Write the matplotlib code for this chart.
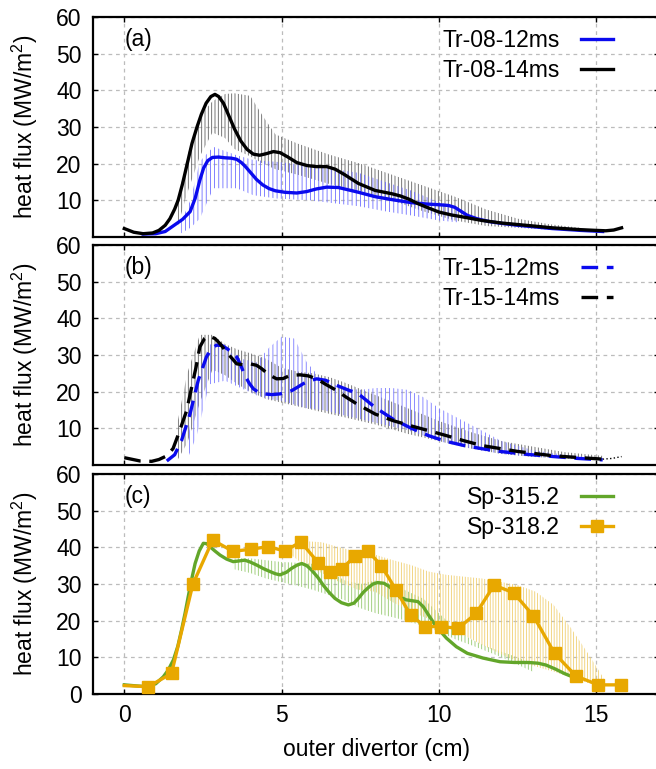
import matplotlib
matplotlib.use('Agg')
import matplotlib.pyplot as plt
from matplotlib.lines import Line2D

plt.rcParams['font.family'] = ['Liberation Sans', 'DejaVu Sans']
plt.rcParams['mathtext.fontset'] = 'custom'
plt.rcParams['mathtext.rm'] = 'Liberation Sans'
plt.rcParams['hatch.linewidth'] = 0.6

FS = 16.5

# ---- panel (a) ----
a_x_12 = [0.6, 1.0, 1.3, 1.6, 1.85, 2.09, 2.25, 2.4, 2.52, 2.65, 2.8, 3.0, 3.2, 3.4, 3.57, 3.72,
          3.85, 4.0, 4.2, 4.4, 4.6, 4.8, 5.1, 5.48, 5.8, 6.1, 6.43, 6.8, 7.1, 7.44, 7.97, 8.5,
          9.1, 9.6, 10.0, 10.3, 10.5, 10.7, 10.9, 11.2, 11.6, 12.0, 12.5, 13.6, 14.5, 15.2]
a_y_12 = [0.8, 0.9, 1.5, 3.3, 4.8, 6.9, 10.5, 15.5, 18.8, 20.8, 21.7, 21.8, 21.6, 21.5, 21.2, 20.3,
          19.2, 17.7, 15.7, 14.2, 13.2, 12.6, 12.2, 12.0, 12.4, 13.1, 13.6, 13.5, 12.9, 12.2, 11.0, 10.2,
          9.4, 9.0, 8.8, 8.6, 8.1, 7.0, 5.9, 5.0, 4.2, 3.7, 3.2, 2.3, 1.8, 1.5]
a_x_14 = [0.0, 0.3, 0.6, 0.9, 1.1, 1.3, 1.45, 1.6, 1.71, 1.85, 2.0, 2.15, 2.31, 2.45, 2.6, 2.75,
          2.88, 3.0, 3.15, 3.3, 3.5, 3.7, 3.9, 4.1, 4.3, 4.5, 4.74, 4.95, 5.2, 5.48, 5.8, 6.1,
          6.43, 6.7, 7.0, 7.44, 7.97, 8.5, 8.77, 9.05, 9.33, 9.7, 10.0, 10.4, 10.8, 11.37, 12.0,
          12.5, 13.0, 13.6, 14.5, 15.0, 15.3, 15.55, 15.8]
a_y_14 = [2.3, 1.3, 0.9, 1.1, 1.8, 3.2, 5.0, 7.6, 10.0, 14.5, 20.0, 25.5, 30.0, 33.5, 36.5, 38.3,
          38.9, 38.3, 36.5, 33.5, 29.5, 26.2, 23.9, 22.6, 22.3, 22.7, 23.3, 23.0, 21.8, 20.3, 19.5, 19.2,
          19.2, 18.5, 17.0, 14.6, 12.7, 11.8, 11.2, 10.3, 9.1, 7.8, 6.8, 6.0, 5.4, 4.5, 3.8,
          3.4, 3.0, 2.5, 2.0, 1.8, 1.7, 1.9, 2.5]
# error bands
a_bx_14 = [1.7, 2.0, 2.4, 2.8, 3.2, 3.5, 4.0, 4.4, 4.8, 5.5, 6.5, 7.5, 8.5, 9.5, 10.5, 11.5, 12.5, 13.5, 14.5]
a_hi_14 = [10, 22, 33, 37, 39, 39.2, 38.5, 33, 28, 25.5, 22.5, 20, 17, 14, 11, 7.5, 5, 3.5, 2.5]
a_lo_14 = [3, 12, 22, 28.5, 27, 24, 22, 20, 18.5, 17, 14.5, 12.5, 10, 7, 4.5, 3, 2.5, 2, 1.8]
a_bx_12 = [1.8, 2.1, 2.4, 2.83, 3.57, 4.1, 4.84, 5.9, 7.44, 8.3, 9.1, 10.0, 10.6]
a_hi_12 = [4, 10, 20.6, 24.6, 22.3, 21, 20.5, 19.5, 17.5, 15, 12.7, 9.5, 8]
a_lo_12 = [1.0, 2.5, 5, 13.3, 13.3, 11.4, 10.5, 10.0, 8.4, 7, 5.9, 4.5, 4]

# ---- panel (b) ----
b_x_12 = [1.35, 1.6, 1.82, 2.09, 2.35, 2.61, 2.78, 2.93, 3.1, 3.25, 3.42, 3.57, 3.7, 3.83, 3.97,
          4.1, 4.25, 4.42, 4.7, 4.95, 5.15, 5.32, 5.5, 5.69, 5.9, 6.11, 6.4, 6.75, 7.1, 7.44,
          7.97, 8.54, 9.1, 9.67, 10.2, 10.8, 11.4, 11.94, 12.8, 13.64, 14.4, 15.2]
b_y_12 = [1.1, 2.8, 6.7, 14.0, 23.1, 29.5, 31.8, 32.7, 32.6, 31.8, 30.8, 29.5, 27.2, 24.4, 22.3,
          20.8, 19.9, 19.4, 19.2, 19.4, 19.8, 20.3, 21.2, 22.2, 23.0, 23.5, 23.1, 21.7, 20.5, 19.4,
          15.7, 12.5, 10.1, 8.0, 6.5, 5.3, 4.4, 3.7, 2.9, 2.3, 1.8, 1.4]
b_x_14 = [0.0, 0.5, 0.87, 1.1, 1.35, 1.55, 1.72, 1.98, 2.14, 2.28, 2.4, 2.55, 2.67, 2.88, 3.05,
          3.2, 3.4, 3.57, 3.8, 3.99, 4.2, 4.36, 4.6, 4.84, 5.05, 5.26, 5.58, 5.85, 6.11, 6.4,
          6.75, 7.05, 7.38, 7.97, 8.54, 9.1, 9.7, 10.24, 10.8, 11.37, 12.5, 13.64, 14.5, 15.2]
b_y_14 = [2.0, 1.1, 1.0, 1.5, 2.5, 4.5, 8.4, 14.8, 21.2, 26.7, 32.2, 34.5, 35.2, 34.5, 33.0,
          31.3, 29.3, 27.6, 27.3, 27.6, 27.2, 26.3, 24.6, 23.5, 23.6, 24.4, 24.6, 24.3, 23.5, 22.0,
          20.3, 18.5, 16.7, 13.9, 12.1, 10.7, 9.3, 8.0, 6.6, 5.3, 3.7, 2.5, 2.0, 1.6]
b_tail_x = [15.2, 15.5, 15.8]
b_tail_y = [1.6, 1.8, 2.3]
b_bx_14 = [1.7, 2.0, 2.4, 2.8, 3.2, 3.6, 4.0, 4.5, 5.0, 5.5, 6.0, 6.5, 7.0, 8.0, 9.0, 10.0, 11.0, 12.0, 13.0, 14.0, 15.2]
b_hi_14 = [12, 25, 35.5, 35.5, 33, 31.5, 30.5, 29, 26.5, 25.5, 25, 24, 22.5, 19, 15.5, 12, 9, 6.5, 5, 3.5, 2.5]
b_lo_14 = [1.5, 6, 17, 26, 24.5, 22, 20, 18, 17, 16, 15, 14, 13, 11, 8.5, 6.5, 4.5, 3, 2.2, 1.8, 1.5]
b_bx_12 = [2.0, 2.3, 2.7, 3.2, 3.7, 4.2, 4.6, 5.0, 5.4, 5.8, 6.3, 7.0, 7.5, 8.0, 8.5, 9.0, 9.5, 10.0, 11.0, 12.0, 13.0, 14.0, 15.0]
b_hi_12 = [6, 23, 33, 31.5, 29, 28, 32, 35, 34.5, 28, 23, 21, 20.5, 21, 21, 20.5, 18.5, 15.5, 11, 6.5, 4, 2.8, 2]
b_lo_12 = [1.5, 8, 22, 23, 21, 19, 18, 17.5, 16.5, 15.5, 15, 13.5, 12.5, 11.5, 10.5, 9.5, 8, 6.5, 4.5, 3, 2.2, 1.8, 1.5]

# ---- panel (c) ----
c_x_315 = [0.0, 0.4, 0.71, 1.0, 1.24, 1.4, 1.56, 1.7, 1.82, 1.93, 2.03, 2.14, 2.25, 2.38, 2.51,
           2.62, 2.72, 2.88, 3.04, 3.25, 3.46, 3.65, 3.83, 4.0, 4.2, 4.42, 4.63, 4.8, 4.95, 5.15,
           5.32, 5.5, 5.64, 5.8, 5.95, 6.15, 6.32, 6.5, 6.69, 6.9, 7.12, 7.3, 7.44, 7.6, 7.75,
           7.9, 8.05, 8.25, 8.42, 8.6, 8.76, 8.95, 9.1, 9.33, 9.5, 9.67, 9.9, 10.24, 10.55, 10.9,
           11.4, 11.94, 12.4, 12.85, 13.15, 13.4, 13.7, 13.98, 14.35]
c_y_315 = [2.5, 2.2, 2.0, 2.8, 4.7, 6.6, 9.3, 13.0, 17.5, 22.0, 26.5, 31.3, 35.6, 39.0, 41.1,
           41.0, 40.2, 39.0, 37.9, 36.8, 36.1, 36.3, 36.5, 36.0, 35.2, 34.2, 33.4, 32.8, 32.5, 33.2,
           34.3, 35.2, 35.6, 35.0, 33.8, 31.8, 29.7, 27.8, 26.1, 24.9, 24.3, 24.8, 26.1, 27.8, 29.0,
           30.0, 30.4, 30.2, 29.3, 27.8, 26.5, 25.7, 25.5, 25.2, 23.8, 21.5, 18.5, 15.2, 12.9, 11.1,
           9.8, 8.8, 8.6, 8.6, 8.4, 7.9, 6.8, 5.6, 4.3]
c_x_318 = [0.0, 0.76, 1.5, 2.18, 2.81, 3.45, 4.03, 4.57, 5.1, 5.61, 6.17, 6.54, 6.92, 7.34, 7.74,
           8.17, 8.63, 9.1, 9.56, 10.07, 10.61, 11.18, 11.75, 12.37, 13.0, 13.67, 14.35, 15.06, 15.77]
c_y_318 = [2.3, 2.0, 5.6, 30.0, 42.0, 38.9, 39.5, 40.2, 39.0, 41.5, 35.7, 33.3, 34.2, 37.7, 39.0,
           35.0, 28.4, 21.5, 18.4, 18.4, 17.9, 22.0, 29.7, 27.6, 21.3, 11.1, 4.9, 2.5, 2.5]
c_bx_315 = [3.5, 4.0, 4.5, 5.0, 5.5, 6.0, 6.5, 7.0, 7.5, 8.0, 8.5, 9.0, 9.5, 10.0, 10.5, 11.0, 11.5, 12.0, 12.5, 13.0]
c_hi_315 = [37, 37, 36.5, 36, 35.8, 35.5, 33.5, 31, 30, 31, 30, 28, 26, 22, 18, 15, 13, 11.5, 10, 8]
c_lo_315 = [34, 33, 31.5, 30.5, 29.5, 28.4, 27, 25.6, 23.4, 22, 21, 19.9, 18.5, 17, 15, 13.4, 11.7, 10, 8, 6]
c_bx_318 = [5.3, 5.7, 6.27, 6.84, 7.4, 7.97, 8.54, 9.1, 9.67, 10.24, 10.8, 11.37, 11.94, 12.5, 13.07, 13.64, 14.2, 14.77, 15.23]
c_hi_318 = [40, 41.7, 41.4, 40, 38.8, 38, 36.5, 35.2, 33.4, 32.5, 32, 31.5, 30.6, 29.7, 27.9, 24.3, 17.9, 10.6, 4.3]
c_lo_318 = [38, 35.2, 33, 30.5, 28.5, 27.9, 25, 22.5, 20.5, 18.8, 16, 13.4, 11, 8.8, 7.5, 6.1, 4.5, 2.9, 2.5]

BLUE = '#0a0aee'
GREEN = '#62a62a'
ORANGE = '#e8a800'
LW = 2.4
DASH = (5, 2.6)

fig = plt.figure(figsize=(6.56, 7.69), dpi=100)
L, W, H = 0.1415, 0.8636, 0.2861
ax_a = fig.add_axes([L, 0.6918, W, H])
ax_b = fig.add_axes([L, 0.3953, W, H])
ax_c = fig.add_axes([L, 0.0975, W, H])


def style(ax, tag, bottom_label):
	ax.set_xlim(-1.0, 17.0)
	ax.set_ylim(0, 60)
	ax.set_xticks([0, 5, 10, 15])
	if bottom_label:
		ax.set_yticks([0, 10, 20, 30, 40, 50, 60])
	else:
		ax.set_yticks([10, 20, 30, 40, 50, 60])
		ax.set_xticklabels([])
	ax.grid(True, color='#bcbcbc', linestyle=(0, (3, 3)), linewidth=0.9)
	ax.set_axisbelow(True)
	for s in ax.spines.values():
		s.set_linewidth(1.6)
	ax.tick_params(direction='in', length=3.5, width=1, top=True, right=True,
	               labelsize=FS)
	ax.tick_params(axis='y', pad=8)
	ax.tick_params(axis='x', pad=7)
	ax.set_ylabel('heat flux (MW/m$^{\\mathrm{2}}$)', fontsize=FS)
	ax.yaxis.set_label_coords(-0.094, 0.5)
	ax.text(0.0, 53.8, tag, fontsize=FS, ha='left', va='center')


def band(ax, x, lo, hi, color, hatch):
	ax.fill_between(x, lo, hi, facecolor='none', edgecolor=color, linewidth=0,
	                hatch=hatch, zorder=1)


def legend(ax, handles, labels):
	ax.legend(handles, labels, loc='upper right', bbox_to_anchor=(0.918, 0.944),
	          frameon=False, markerfirst=False, handlelength=1.38, handletextpad=0.95,
	          borderpad=0, borderaxespad=0, labelspacing=0.29, fontsize=FS)


# (a)
style(ax_a, '(a)', False)
band(ax_a, a_bx_14, a_lo_14, a_hi_14, '#606060', '|||||')
band(ax_a, a_bx_12, a_lo_12, a_hi_12, '#6c6cff', '||||')
l1, = ax_a.plot(a_x_12, a_y_12, color=BLUE, lw=LW, zorder=3)
l2, = ax_a.plot(a_x_14, a_y_14, color='black', lw=LW, zorder=4)
legend(ax_a, [l1, l2], ['Tr-08-12ms', 'Tr-08-14ms'])

# (b)
style(ax_b, '(b)', False)
band(ax_b, b_bx_14, b_lo_14, b_hi_14, '#606060', '|||||')
band(ax_b, b_bx_12, b_lo_12, b_hi_12, '#7878ff', '||||')
l3, = ax_b.plot(b_x_12, b_y_12, color=BLUE, lw=LW, dashes=DASH, zorder=3)
l4, = ax_b.plot(b_x_14, b_y_14, color='black', lw=LW, dashes=DASH, zorder=4)
ax_b.plot(b_tail_x, b_tail_y, color='black', lw=1, ls=':', zorder=4)
legend(ax_b, [l3, l4], ['Tr-15-12ms', 'Tr-15-14ms'])

# (c)
style(ax_c, '(c)', True)
band(ax_c, c_bx_315, c_lo_315, c_hi_315, '#92c86a', '|||||')
band(ax_c, c_bx_318, c_lo_318, c_hi_318, '#f0cf70', '||||||')
l5, = ax_c.plot(c_x_315, c_y_315, color=GREEN, lw=LW, zorder=3)
l6, = ax_c.plot(c_x_318, c_y_318, color=ORANGE, lw=LW, marker='s', ms=8,
                markevery=list(range(1, len(c_x_318))), zorder=4)
h6 = Line2D([], [], color=ORANGE, lw=LW, marker='s', ms=8)
legend(ax_c, [l5, h6], ['Sp-315.2', 'Sp-318.2'])
ax_c.set_xlabel('outer divertor (cm)', fontsize=FS, labelpad=8)

fig.savefig('out.png', dpi=100)
